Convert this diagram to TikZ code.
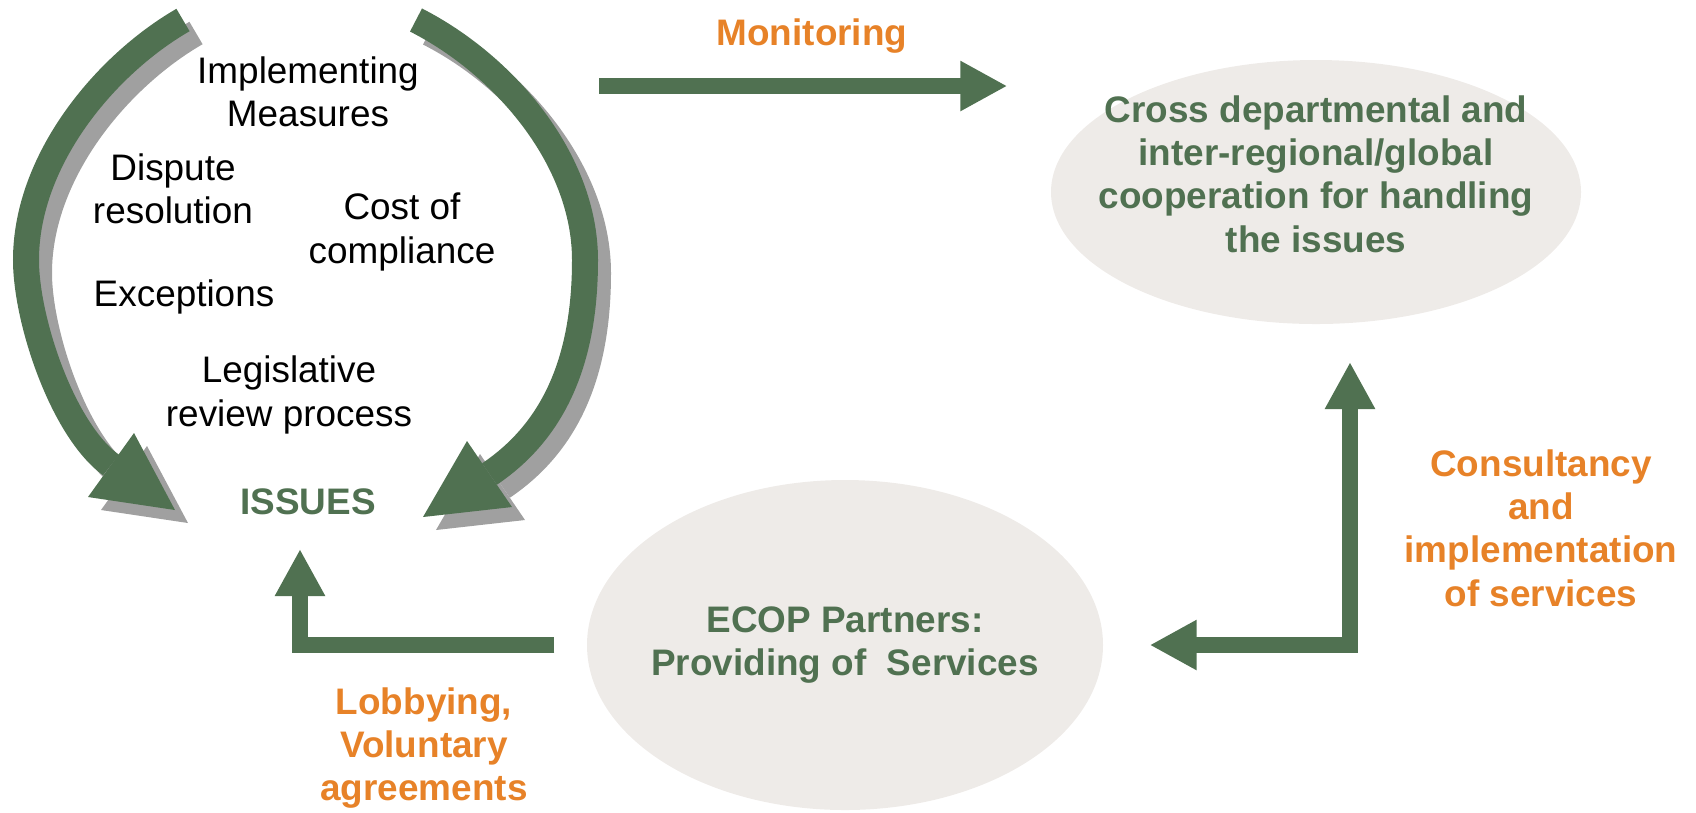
\documentclass[tikz,border=0pt]{standalone}
\usepackage{fontspec}
\setmainfont{Liberation Sans}
\usetikzlibrary{arrows.meta,shapes.geometric}
\definecolor{grn}{RGB}{80,113,81}
\definecolor{org}{RGB}{231,130,40}
\definecolor{bg}{RGB}{238,235,232}
\definecolor{shd}{RGB}{160,160,160}
\begin{document}
\begin{tikzpicture}[x=0.1mm, y=-0.1mm,
    >={Triangle[length=4.7mm, width=4.7mm]},
    txt/.style = {align=center, inner sep=0pt, font=\fontsize{10.5}{12.3}\selectfont},
    gtxt/.style = {txt, text=grn, font=\fontsize{10.5}{12.3}\selectfont\bfseries},
    otxt/.style = {txt, text=org, font=\fontsize{10.5}{12.3}\selectfont\bfseries},
    ell/.style = {ellipse, fill=bg, inner sep=0pt},
    arr/.style = {draw=grn, line width=1.6mm},
    band/.style = {line width=2.6mm}]
  \useasboundingbox (0,0) rectangle (1696,812);
  % shadows of the two curved arrows
  \begin{scope}[shift={(13,13)}, shd]
    \draw[band] (183,20) to [out=210, in=90, out distance=9mm, in distance=10mm] (26,260)
      to [out=270, in=144, out distance=6mm, in distance=6mm] (111,465);
    \fill (175,510) -- (88,497) -- (134,433) -- cycle;
    \draw[band] (416,20) to [out=-27, in=90, out distance=10mm, in distance=10mm] (585,260)
      to [out=270, in=34, out distance=11mm, in distance=7mm] (489.5,474);
    \fill (423,517) -- (467,441) -- (512,507) -- cycle;
  \end{scope}
  % curved arrows
  \begin{scope}[grn]
    \draw[band] (183,20) to [out=210, in=90, out distance=9mm, in distance=10mm] (26,260)
      to [out=270, in=144, out distance=6mm, in distance=6mm] (111,465);
    \fill (175,510) -- (88,497) -- (134,433) -- cycle;
    \draw[band] (416,20) to [out=-27, in=90, out distance=10mm, in distance=10mm] (585,260)
      to [out=270, in=34, out distance=11mm, in distance=7mm] (489.5,474);
    \fill (423,517) -- (467,441) -- (512,507) -- cycle;
  \end{scope}
  \node[txt] (imp) at (308,92) {Implementing\\Measures};
  \node[txt] (disp) at (173,189) {Dispute\\resolution};
  \node[txt] (cost) at (402,232) {Cost of\\compliance};
  \node[txt] (exc) at (184,297) {Exceptions};
  \node[txt] (leg) at (289,395) {Legislative\\review process};
  \node[gtxt] (iss) at (308,502) {ISSUES};
  \node[ell, minimum width=53mm, minimum height=26.4mm] (coop) at (1316,192) {};
  \node[gtxt] (cooptxt) at ([yshift=1.8mm]coop) {Cross departmental and\\inter-regional/global\\cooperation for handling\\the issues};
  \node[ell, minimum width=51.6mm, minimum height=33mm] (ecop) at (845,645) {};
  \node[gtxt] (ecoptxt) at (ecop) {ECOP Partners:\\Providing of~ Services};
  \node[otxt] (mon) at (812,36) {Monitoring};
  \node[otxt] (cons) at (1541,528) {Consultancy\\and\\implementation\\of services};
  \node[otxt] (lob) at (424,748) {Lobbying,\\Voluntary\\agreements};
  \coordinate (m0) at (599,86);
  \coordinate (tipL) at (300,549);
  \coordinate (tipR) at (1350,362);
  \draw[arr, ->, shorten >=4.3mm] (m0) -- (m0 -| coop.west);
  \draw[arr, ->, shorten <=3.2mm] (ecop.west) -| (tipL);
  \draw[arr, <->, shorten <=4.6mm] (ecop.east) -| (tipR);
\end{tikzpicture}
\end{document}
